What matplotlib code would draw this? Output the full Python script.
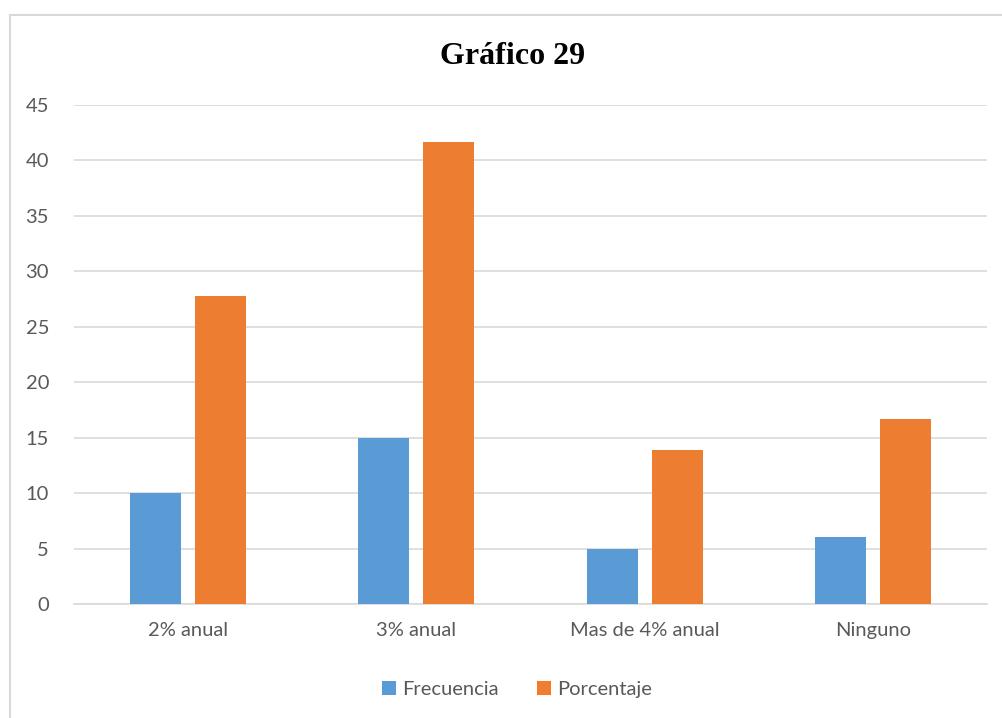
import numpy as np
import matplotlib.pyplot as plt
from matplotlib.patches import Rectangle

categorias = ["2% anual", "3% anual", "Mas de 4% anual", "Ninguno"]
frecuencia = [10, 15, 5, 6]
porcentaje = [27.78, 41.67, 13.89, 16.67]

plt.rcParams['font.family'] = ['Lato', 'DejaVu Sans']

fig = plt.figure(figsize=(10.02, 7.18), dpi=100)
ax = fig.add_axes([0.0739, 0.1588, 0.9111, 0.695])

x = np.arange(len(categorias))
w = 0.2234
off = 0.1424
ax.bar(x - off, frecuencia, w, color="#5B9BD5", label="Frecuencia", zorder=3)
ax.bar(x + off, porcentaje, w, color="#ED7D31", label="Porcentaje", zorder=3)

ax.set_xlim(-0.5, 3.5)
ax.set_ylim(0, 45)
ax.set_yticks(range(0, 46, 5))
ax.set_xticks(x)
ax.set_xticklabels(categorias)
ax.grid(axis="y", color="#D9D9D9", linewidth=1.2, zorder=0)
for s in ["top", "right", "left"]:
    ax.spines[s].set_visible(False)
ax.spines["bottom"].set_color("#D9D9D9")
ax.spines["bottom"].set_linewidth(1.2)
ax.tick_params(length=0, labelsize=14.5, labelcolor="#595959")
ax.tick_params(axis="y", pad=18)
ax.tick_params(axis="x", pad=13)

fig.text(0.512, 0.921, "Gráfico 29", ha="center", va="center",
         fontsize=23, fontweight="bold", family="Liberation Serif")

ax.legend(loc="center", bbox_to_anchor=(0.5163, 0.04), bbox_transform=fig.transFigure,
          ncol=2, frameon=False, fontsize=14.5, labelcolor="#595959",
          handlelength=0.7, handleheight=0.7, handletextpad=0.3, columnspacing=1.9)

# chart border
fig.patches.append(Rectangle((10 / 1002, -0.1), 1.2, (718 - 15) / 718 + 0.1,
                             transform=fig.transFigure, fill=False,
                             edgecolor="#D9D9D9", linewidth=1.5))

fig.savefig("out.png", dpi=100)
